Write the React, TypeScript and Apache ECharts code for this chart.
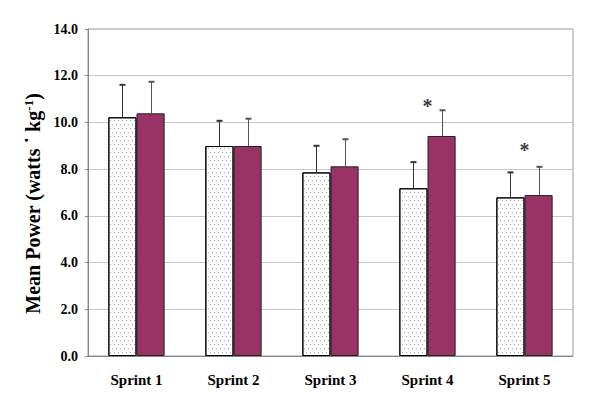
import React, { useEffect, useRef } from "react";
import * as echarts from "echarts";

const categories = ["Sprint 1", "Sprint 2", "Sprint 3", "Sprint 4", "Sprint 5"];
const groupA = [10.22, 8.99, 7.86, 7.18, 6.79];
const groupAErr = [1.39, 1.08, 1.14, 1.12, 1.07];
const groupB = [10.39, 8.99, 8.12, 9.42, 6.89];
const groupBErr = [1.35, 1.17, 1.16, 1.1, 1.21];
const starValues: (number | null)[] = [null, null, null, 10.72, 8.82];
const yTicks = [0, 2, 4, 6, 8, 10, 12, 14];

const FONT = "'Liberation Serif', 'Times New Roman', serif";
const CAT_GAP = 0.42;

function errorSeries(values: number[], errs: number[], side: number, color: string) {
  return {
    type: "custom",
    z: 5,
    silent: true,
    data: values.map((v, i) => [i, v, errs[i]]),
    renderItem: (params: any, api: any) => {
      const idx = api.value(0);
      const v = api.value(1);
      const e = api.value(2);
      const base = api.coord([idx, v]);
      const top = api.coord([idx, v + e]);
      const band = api.size([1, 0])[0];
      const bw = (band * (1 - CAT_GAP)) / 2;
      const x = Math.round(base[0] + side * bw / 2) + 0.5;
      const cap = 3;
      return {
        type: "group",
        children: [
          {
            type: "line",
            shape: { x1: x, y1: base[1], x2: x, y2: top[1] },
            style: { stroke: color, lineWidth: 1 },
          },
          {
            type: "line",
            shape: { x1: x - cap, y1: top[1], x2: x + cap, y2: top[1] },
            style: { stroke: color, lineWidth: 2 },
          },
        ],
      };
    },
  };
}

export default function App() {
  const ref = useRef<HTMLDivElement>(null);
  useEffect(() => {
    const chart = echarts.init(ref.current!, null, { renderer: "svg" });
    chart.setOption({
      animation: false,
      textStyle: { fontFamily: FONT },
      grid: {
        left: 88,
        right: 27,
        top: 29,
        bottom: 54,
        show: true,
        borderColor: "#999",
        borderWidth: 1,
      },
      xAxis: {
        type: "category",
        data: categories,
        axisLine: { lineStyle: { color: "#888" } },
        axisTick: { show: false },
        axisLabel: {
          fontFamily: FONT,
          fontWeight: "bold",
          fontSize: 15,
          color: "#000",
          margin: 16,
        },
      },
      yAxis: {
        type: "value",
        min: yTicks[0],
        max: yTicks[yTicks.length - 1],
        interval: 2,
        axisLine: { show: true, lineStyle: { color: "#888" } },
        axisTick: { show: true, length: 3, lineStyle: { color: "#888" } },
        splitLine: { lineStyle: { color: "#c8c8c8" } },
        axisLabel: {
          fontFamily: FONT,
          fontWeight: "bold",
          fontSize: 14,
          color: "#000",
          margin: 10,
          formatter: (v: number) => v.toFixed(1),
        },
        name: "{a|Mean Power (watts ˙ kg}{s|-1}{a|)}",
        nameLocation: "middle",
        nameRotate: 90,
        nameGap: 41,
        nameTextStyle: {
          padding: [0, 22, 0, 0],
          rich: {
            a: { fontFamily: FONT, fontWeight: "bold", fontSize: 20, color: "#000" },
            s: {
              fontFamily: FONT,
              fontWeight: "bold",
              fontSize: 13,
              color: "#000",
              verticalAlign: "top",
              padding: [0, 0, 9, 0],
            },
          },
        },
      },
      series: [
        {
          type: "bar",
          data: groupA,
          barGap: "0%",
          barCategoryGap: CAT_GAP * 100 + "%",
          itemStyle: {
            color: "#ffffff",
            borderColor: "#000",
            borderWidth: 1,
            decal: {
              symbol: "rect",
              symbolSize: 1,
              color: "#a8a8a8",
              backgroundColor: "#ffffff",
              dashArrayX: [[1, 3], [0, 2, 1, 1]],
              dashArrayY: [1, 3],
            },
          },
          silent: true,
        },
        {
          type: "bar",
          data: groupB,
          itemStyle: {
            color: "#993366",
            borderColor: "#222",
            borderWidth: 1,
          },
          silent: true,
        },
        errorSeries(groupA, groupAErr, -1, "#333"),
        errorSeries(groupB, groupBErr, 1, "#555"),
        {
          type: "scatter",
          data: starValues.map((v, i) => (v == null ? null : [i, v])),
          symbolSize: 1,
          itemStyle: { color: "transparent" },
          silent: true,
          z: 6,
          label: {
            show: true,
            position: "inside",
            formatter: "*",
            fontFamily: FONT,
            fontWeight: "bold",
            fontSize: 20,
            color: "#000",
          },
        },
      ],
    });
    return () => chart.dispose();
  }, []);
  return <div ref={ref} style={{ width: 600, height: 410, margin: -8 }} />;
}
